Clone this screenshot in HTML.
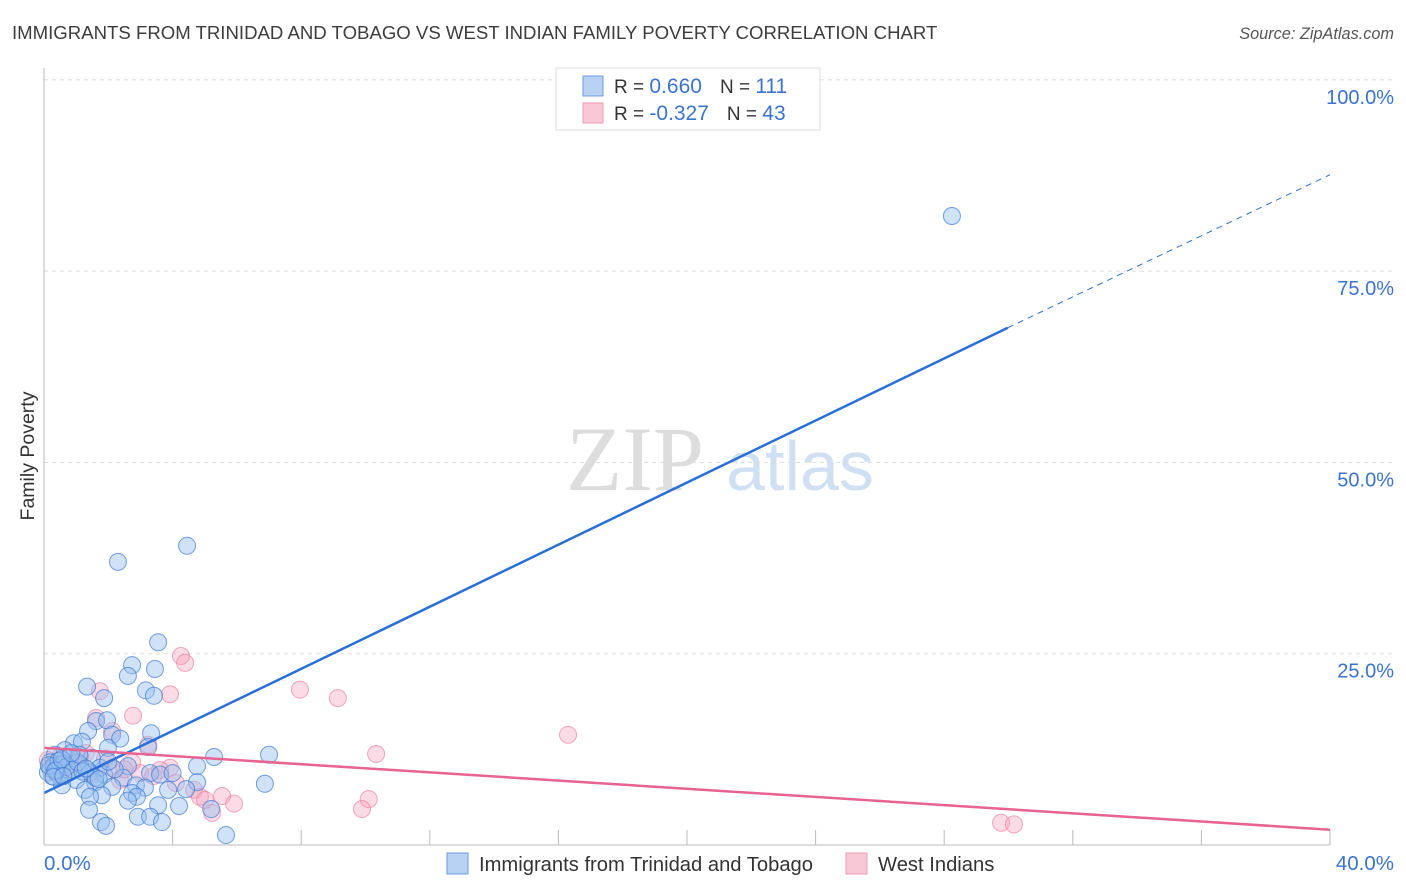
<!DOCTYPE html>
<html><head><meta charset="utf-8"><style>
body{margin:0;background:#fff;font-family:"Liberation Sans",sans-serif;}
svg{display:block}
</style></head><body>
<svg id="chart" width="1406" height="892">
<text x="12" y="39" font-size="18.6" fill="#3c3c3c">IMMIGRANTS FROM TRINIDAD AND TOBAGO VS WEST INDIAN FAMILY POVERTY CORRELATION CHART</text>
<text x="1394" y="39" font-size="16.3" fill="#555" font-style="italic" text-anchor="end">Source: ZipAtlas.com</text>
<text x="34" y="456" font-size="19.5" fill="#333" text-anchor="middle" transform="rotate(-90 34 456)">Family Poverty</text>
<g><text x="635" y="490" font-size="92" fill="#ddd" font-family="Liberation Serif,serif" text-anchor="middle">ZIP</text><text x="800" y="490" font-size="70" fill="#cfe0f3" text-anchor="middle">atlas</text></g>
<g id="grid"></g><g id="marks"></g><g id="lines"></g>
<line x1="44" y1="68" x2="44" y2="845" stroke="#bbb"/>
<line x1="44" y1="845" x2="1330" y2="845" stroke="#bbb"/>
<text x="44" y="870" font-size="20.5" fill="#3b73d1">0.0%</text>
<text x="1394" y="870" font-size="20.5" fill="#3b73d1" text-anchor="end">40.0%</text>
<g>
<rect x="556" y="68" width="264" height="62" fill="#fff" stroke="#ddd"/>
<rect x="583" y="76" width="20" height="20" fill="#b8d2f3" stroke="#6a9be0"/>
<rect x="583" y="103" width="20" height="20" fill="#f9c8d6" stroke="#ec9ab2"/>
<text x="614" y="93" font-size="19" fill="#333">R = <tspan fill="#3b73d1" font-size="21"> 0.660</tspan><tspan dx="18">N = </tspan><tspan fill="#3b73d1" font-size="21">111</tspan></text>
<text x="614" y="120" font-size="19" fill="#333">R = <tspan fill="#3b73d1" font-size="21">-0.327</tspan><tspan dx="18">N = </tspan><tspan fill="#3b73d1" font-size="21">43</tspan></text>
</g>
<g>
<rect x="447" y="853" width="21" height="21" fill="#b8d2f3" stroke="#6a9be0"/>
<text x="479" y="871" font-size="20.2" fill="#333">Immigrants from Trinidad and Tobago</text>
<rect x="846" y="853" width="21" height="21" fill="#f9c8d6" stroke="#ec9ab2"/>
<text x="878" y="871" font-size="20.2" fill="#333">West Indians</text>
</g>
</svg>
<script>
const yTicks=[25,50,75,100];
const yTickLabels=["25.0%","50.0%","75.0%","100.0%"];
const xTicks=[0,4,8,12,16,20,24,28,32,36,40];
const blueX=[28.24,4.45,2.30,3.55,2.74,3.45,2.61,1.34,3.17,1.87,3.42,1.62,1.96,1.37,2.12,3.33,2.37,0.93,1.18,3.24,1.99,5.29,7.0,0.65,0.34,0.81,1.49,0.19,0.5,1.12,1.74,2.61,4.76,0.12,0.44,0.75,1.43,1.87,3.3,3.61,4.0,2.46,1.0,1.59,0.56,2.12,2.86,4.76,6.87,1.28,3.14,3.86,1.8,2.74,4.42,1.43,2.89,2.61,3.55,4.2,1.4,5.2,2.92,3.3,1.77,3.67,1.93,5.66,0.2,0.3,0.4,0.6,0.25,0.45,0.7,0.9,1.05,1.2,0.15,0.35,0.55,1.6,2.2,2.0,1.1,0.85,0.3,0.6,1.3,1.7];
const blueY=[82.2,39.1,37.0,26.5,23.5,23.0,22.1,20.7,20.2,19.2,19.5,16.2,16.3,14.9,14.4,14.6,13.9,13.3,13.5,12.8,12.7,11.5,11.8,12.4,11.8,11.5,11.4,10.8,10.5,10.5,10.1,10.3,10.3,9.5,9.2,9.4,9.5,9.2,9.4,9.2,9.4,8.8,8.5,8.2,7.8,7.6,7.8,8.2,8.0,7.2,7.5,7.2,6.5,6.8,7.3,6.3,6.3,5.8,5.2,5.1,4.6,4.7,3.7,3.7,3.0,3.0,2.5,1.3,10.0,10.3,9.8,10.6,9.0,11.0,10.2,9.8,10.8,9.6,10.4,9.7,11.2,8.8,9.9,10.9,11.8,12.0,8.9,9.0,10.0,8.6];
const pinkX=[4.26,4.39,1.74,3.92,7.96,9.14,2.77,1.62,16.3,2.12,3.24,10.33,0.5,1.12,0.12,2.74,2.12,3.92,3.61,2.99,0.37,0.81,4.67,4.85,5.01,5.54,5.91,5.23,10.1,9.89,29.77,30.17,1.49,2.36,0.25,0.6,0.9,1.3,2.5,3.4,0.4,1.9,4.1];
const pinkY=[24.7,23.8,20.1,19.7,20.3,19.2,16.9,16.6,14.4,14.9,13.1,11.9,11.5,11.5,11.1,10.8,10.1,10.1,9.8,9.4,9.5,10.1,7.2,6.3,5.9,6.4,5.4,4.2,6.0,4.7,2.9,2.7,9.2,8.5,10.5,11.0,10.8,12.0,9.9,9.0,10.2,11.3,8.1];
const blueFit=[[0,6.8],[29.98,67.6],[40,87.6]];
const pinkFit=[[0,12.7],[40,2.0]];
const NS="http://www.w3.org/2000/svg";
const sx=v=>44+v*(1330-44)/40;
const sy=v=>845-v*7.652;
function mk(t,a,p){const e=document.createElementNS(NS,t);for(const k in a)e.setAttribute(k,a[k]);p.appendChild(e);return e;}
const grid=document.getElementById('grid'),marks=document.getElementById('marks'),lines=document.getElementById('lines'),svg=document.getElementById('chart');
yTicks.forEach((t,i)=>{
 const l=mk('line',{x1:44,x2:1394,y1:sy(t),y2:sy(t),stroke:'#ddd','stroke-dasharray':'4,4'},grid);
 
 
 const tx=mk('text',{x:1394,y:sy(t)+24,'font-size':20,fill:'#3b73d1','text-anchor':'end'},svg);
 tx.textContent=yTickLabels[i];
 
 
});
xTicks.forEach(t=>{
 const l=mk('line',{x1:sx(t),x2:sx(t),y1:830,y2:845,stroke:'#bbb'},grid);
 
 
});
pinkX.forEach((x,i)=>{
 const c=mk('circle',{cx:sx(x),cy:sy(pinkY[i]),r:8.5,fill:'rgba(244,160,186,0.38)',stroke:'rgba(236,130,160,0.7)','stroke-width':1},marks);
 
 
});
blueX.forEach((x,i)=>{
 const c=mk('circle',{cx:sx(x),cy:sy(blueY[i]),r:8.5,fill:'rgba(150,190,240,0.45)',stroke:'rgba(60,120,210,0.7)','stroke-width':1},marks);
 
 
});
const b1=mk('line',{x1:sx(blueFit[0][0]),y1:sy(blueFit[0][1]),x2:sx(blueFit[1][0]),y2:sy(blueFit[1][1]),stroke:'#2a6fd6','stroke-width':2.5},lines);


const b2=mk('line',{x1:sx(blueFit[1][0]),y1:sy(blueFit[1][1]),x2:sx(blueFit[2][0]),y2:sy(blueFit[2][1]),stroke:'#2a6fd6','stroke-width':1,'stroke-dasharray':'6,5'},lines);


const p1=mk('line',{x1:sx(pinkFit[0][0]),y1:sy(pinkFit[0][1]),x2:sx(pinkFit[1][0]),y2:sy(pinkFit[1][1]),stroke:'#e8638f','stroke-width':2.5},lines);


</script>
</body></html>
